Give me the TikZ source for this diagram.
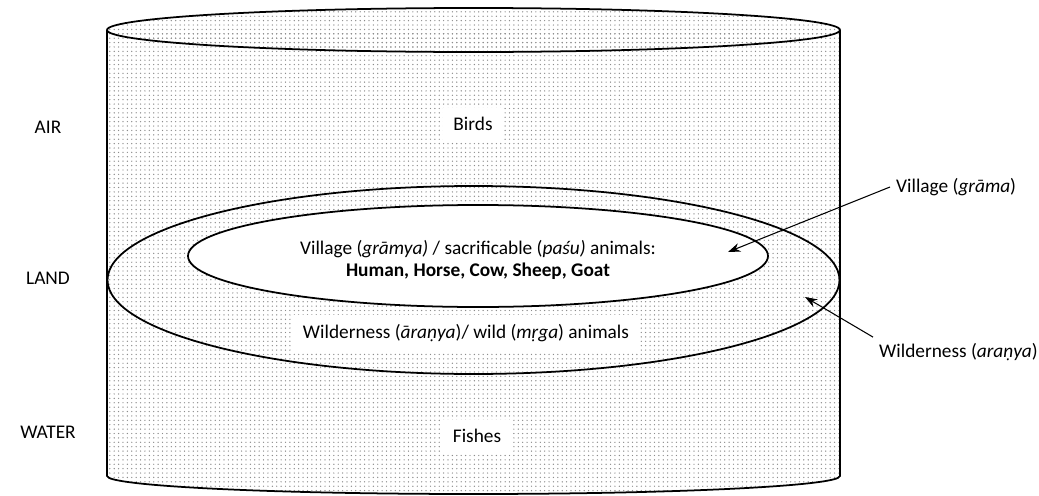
\documentclass[tikz,border=0pt]{standalone}
\usepackage{fontspec}
\setmainfont{Carlito}
\usepackage{tikz}
\usetikzlibrary{arrows.meta,positioning,patterns.meta}

\tikzset{
  dotfill/.style={pattern={Dots[distance=2.5pt,radius=0.4pt]}, pattern color=black!45},
  rim/.style={line width=1pt},
  whitebox/.style={fill=white, inner xsep=6pt, inner ysep=5pt},
  pointer/.style={-{Stealth[length=7pt,width=5pt]}, line width=0.6pt},
}

\begin{document}
\begin{tikzpicture}[x=0.02cm, y=0.02cm, font=\fontsize{11}{13}\selectfont]
    \useasboundingbox (0,0) rectangle (1039,495);

    % the cylinder
    \draw [dotfill, rim] (107,465) -- (107,19) arc [start angle=180, end angle=360, x radius=366.5, y radius=18] -- (840,465);
    \draw [dotfill, rim] (473.5,465) ellipse [x radius=366.5, y radius=22];

    % land rings
    \draw [rim] (473.5,215) ellipse [x radius=366, y radius=94];
    \draw [rim, fill=white] (478,239) ellipse [x radius=290, y radius=51];

    \node [whitebox] (birds) at (473,371) {Birds};
    \node [align=center] (village) at (478,235) {Village (\textit{grāmya)} / sacrificable (\textit{paśu)} animals:\\ \textbf{Human, Horse, Cow, Sheep, Goat}};
    \node [whitebox] (wild) at (466,162) {Wilderness (\textit{āraṇya})/ wild (\textit{mṛga}) animals};
    \node [whitebox] (fishes) at (477,59) {Fishes};

    \node (land) at (48,217) {LAND};
    \node [on grid, above=3.02cm of land] (air) {AIR};
    \node [on grid, below=3.08cm of land] (water) {WATER};

    \node [anchor=west] (gramalbl) at (890,308) {Village (\textit{grāma})};
    \node [anchor=west] (aranyalbl) at (873,143) {Wilderness (\textit{araṇya})};
    \coordinate (gramapt) at (728,243);
    \coordinate (aranyapt) at (805,198);

    \draw [pointer] (gramalbl.west) -- (gramapt);
    \draw [pointer] (aranyalbl.north west) -- (aranyapt);
\end{tikzpicture}
\end{document}
